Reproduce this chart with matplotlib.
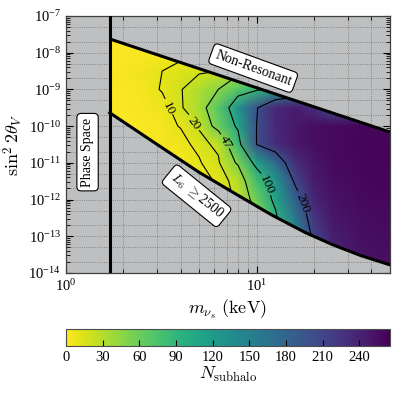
import numpy as np
import matplotlib
matplotlib.use("Agg")
import matplotlib.pyplot as plt
from matplotlib.colors import Normalize
from matplotlib.patches import Polygon
from matplotlib.ticker import LogLocator, NullFormatter

plt.rcParams['font.family'] = ['Liberation Serif', 'DejaVu Serif']
plt.rcParams['mathtext.fontset'] = 'cm'

# boundaries of the allowed region
m_min = 1.7                      # phase-space bound (keV)
upper_m = [1.7, 50]
upper_s = [2.36e-8, 6.9e-11]     # non-resonant bound
lower_m = [1.7, 3, 5, 8, 12, 18, 25, 35, 50]
lower_s = [2.3e-10, 3.2e-11, 5.5e-12, 1.3e-12, 3.8e-13, 1.26e-13, 5.9e-14, 3.0e-14, 1.66e-14]

# N_subhalo sampled on a coarse grid (rows: mixing angle, cols: mass)
mass_grid = [1.7, 2.5, 3.2, 4.0, 5.0, 6.3, 8.0, 10, 12.6, 16, 20, 25, 35, 50]
mix_grid = [3.16e-8, 1e-8, 3.16e-9, 1e-9, 3.16e-10, 1e-10, 3.16e-11,
            1e-11, 3.16e-12, 1e-12, 3.16e-13, 1e-13, 3.16e-14, 1e-14]
n_subhalo = [
    [0, 1, 2, 3, 4, 6, 10, 15, 20, 30, 40, 50, 60, 70],
    [0, 3, 4, 4, 6, 12, 20, 30, 40, 55, 70, 80, 90, 100],
    [0, 6, 10, 14, 16, 20, 35, 50, 70, 90, 110, 120, 130, 140],
    [0, 5, 11, 19, 32, 47, 70, 90, 120, 140, 150, 150, 150, 150],
    [0, 3, 7, 18, 35, 70, 130, 198, 235, 245, 230, 200, 200, 200],
    [0, 2, 5, 11, 23, 60, 108, 200, 235, 248, 255, 258, 260, 260],
    [0, 1, 3, 6, 14, 25, 85, 200, 232, 248, 255, 258, 261, 262],
    [0, 0, 1, 4, 9, 18, 52, 115, 175, 230, 250, 257, 260, 262],
    [0, 0, 0, 2, 5, 12, 28, 80, 125, 210, 245, 255, 259, 261],
    [0, 0, 0, 1, 3, 7, 25, 60, 112, 185, 238, 252, 258, 260],
    [0, 0, 0, 0, 2, 5, 15, 45, 95, 160, 225, 248, 256, 258],
    [0, 0, 0, 0, 1, 3, 10, 35, 80, 145, 210, 243, 254, 257],
    [0, 0, 0, 0, 0, 2, 7, 28, 70, 135, 200, 238, 252, 256],
    [0, 0, 0, 0, 0, 1, 5, 22, 60, 125, 190, 232, 250, 255],
]
contour_levels = [10, 20, 47, 100, 200]
label_pos = [(3.5, 3.1e-10), (4.73, 1.2e-10), (6.97, 3.7e-11), (11.4, 2.5e-12), (17.4, 7.9e-13)]
cbar_ticks = [0, 30, 60, 90, 120, 150, 180, 210, 240]

bg = '#bebfc0'

fig = plt.figure(figsize=(3.99, 3.99), dpi=100)
ax = fig.add_axes([0.165, 0.316, 0.812, 0.644])
cax = fig.add_axes([0.165, 0.133, 0.812, 0.043])
ax.set_facecolor(bg)

ax.set_xscale('log')
ax.set_yscale('log')
ax.set_xlim(1, 50)
ax.set_ylim(1e-14, 1e-7)

# region between the two bounds, used as clip path
verts = list(zip(upper_m, upper_s)) + list(zip(lower_m[::-1], lower_s[::-1]))
region = Polygon(verts, closed=True, transform=ax.transData)

X, Y = np.meshgrid(mass_grid, mix_grid)
Z = np.array(n_subhalo, dtype=float)
norm = Normalize(0, 265)
mesh = ax.pcolormesh(X, Y, Z, cmap='viridis_r', norm=norm, shading='gouraud', zorder=1)
mesh.set_clip_path(region)

cs = ax.contour(X, Y, Z, levels=contour_levels, colors='k', linewidths=0.8, zorder=2)
cs.set_clip_path(region)
ax.clabel(cs, fmt='%d', fontsize=9.5, inline=True, inline_spacing=2, manual=label_pos)

# bounds
ax.plot(upper_m, upper_s, color='k', lw=2.2, zorder=3, solid_capstyle='butt')
ax.plot(lower_m, lower_s, color='k', lw=2.2, zorder=3)
ax.axvline(m_min, color='k', lw=2.2, zorder=3)

box = dict(boxstyle='round,pad=0.3', fc='white', ec='k', lw=0.8)
ax.text(1.30, 1.95e-11, 'Phase Space', rotation=90, ha='center', va='center',
        fontsize=10, bbox=box, zorder=5)
ax.text(9.6, 3.8e-9, 'Non-Resonant', rotation=-20, ha='center', va='center',
        fontsize=10, bbox=box, zorder=5)
ax.text(4.85, 1.26e-12, r'$L_6$ $\geq$2500', rotation=-39, ha='center', va='center',
        fontsize=10, bbox=box, zorder=5)

ax.yaxis.set_major_locator(LogLocator(base=10, numticks=20))
ax.yaxis.set_minor_locator(LogLocator(base=10, subs=np.arange(2, 10), numticks=20))
ax.xaxis.set_minor_formatter(NullFormatter())
ax.yaxis.set_minor_formatter(NullFormatter())
ax.tick_params(which='both', direction='in', top=True, right=True, labelsize=10.5)
ax.tick_params(which='major', length=5, width=0.8)
ax.tick_params(which='minor', length=3, width=0.6)

# dotted grid: every x tick, y at 1, 2, 5 per decade
grid_kw = dict(ls=':', color='0.45', lw=0.6, zorder=0)
ax.xaxis.grid(True, which='both', **grid_kw)
ax.yaxis.grid(True, which='major', **grid_kw)
for k in range(-14, -7):
    for f in (2, 5):
        ax.axhline(f * 10.0 ** k, **grid_kw)
ax.set_axisbelow(True)
for s in ax.spines.values():
    s.set_linewidth(0.9)
    s.set_color('0.25')

ax.set_xlabel(r'$m_{\nu_s}\ (\mathrm{keV})$', fontsize=13, labelpad=3)
ax.set_ylabel(r'$\sin^2 2\theta_V$', fontsize=13, labelpad=2)

cb = fig.colorbar(mesh, cax=cax, orientation='horizontal', ticks=cbar_ticks)
cax.tick_params(direction='in', length=4, width=0.8, labelsize=10.5, top=False)
cb.outline.set_linewidth(0.8)
cb.outline.set_edgecolor('0.3')
cb.set_label(r'$N_{\mathrm{subhalo}}$', fontsize=13, labelpad=1)

fig.savefig('out.png', dpi=100)
